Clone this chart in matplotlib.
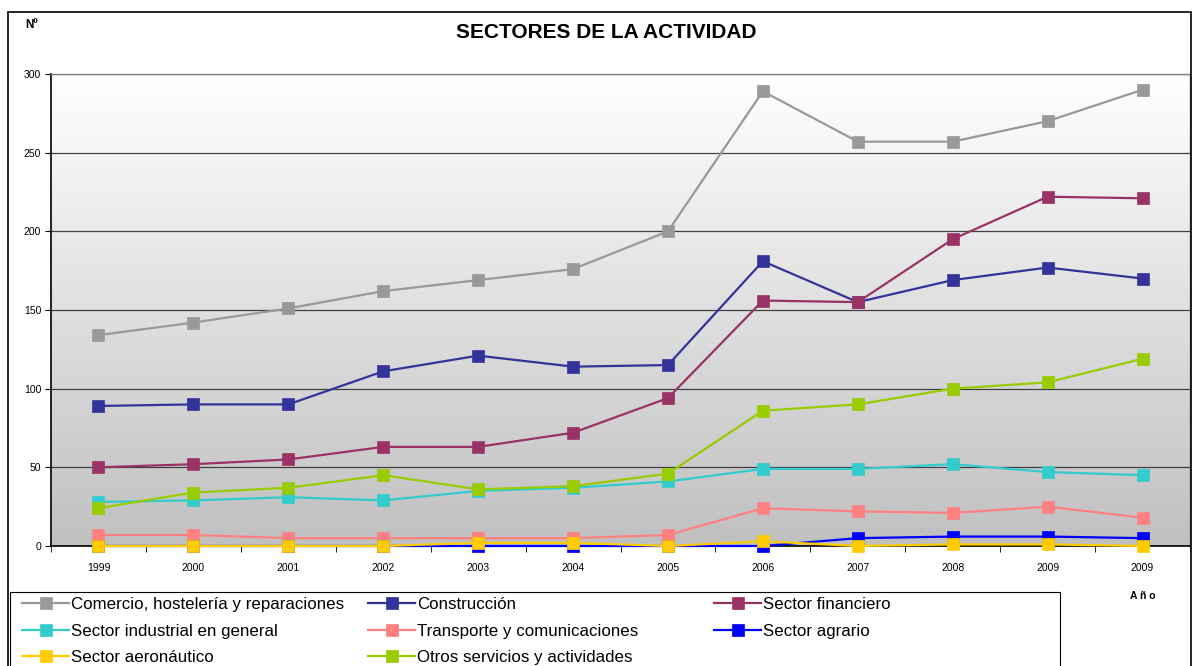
import matplotlib
matplotlib.use("Agg")
import matplotlib.pyplot as plt
import numpy as np
from matplotlib.patches import Rectangle
from matplotlib.colors import LinearSegmentedColormap

plt.rcParams['font.family'] = ['Liberation Sans', 'DejaVu Sans']

years = ["1999", "2000", "2001", "2002", "2003", "2004", "2005", "2006", "2007", "2008", "2009", "2009"]

comercio = [134, 142, 151, 162, 169, 176, 200, 289, 257, 257, 270, 290]
construccion = [89, 90, 90, 111, 121, 114, 115, 181, 155, 169, 177, 170]
financiero = [50, 52, 55, 63, 63, 72, 94, 156, 155, 195, 222, 221]
industrial = [28, 29, 31, 29, 35, 37, 41, 49, 49, 52, 47, 45]
transporte = [7, 7, 5, 5, 5, 5, 7, 24, 22, 21, 25, 18]
agrario = [0, 0, 0, 0, 0, 0, 0, 0, 5, 6, 6, 5]
aeronautico = [0, 0, 0, 0, 2, 2, 0, 3, 0, 1, 1, 0]
otros = [24, 34, 37, 45, 36, 38, 46, 86, 90, 100, 104, 119]

series = [
    ("Comercio, hostelería y reparaciones", comercio, "#999999"),
    ("Construcción", construccion, "#333399"),
    ("Sector financiero", financiero, "#993366"),
    ("Sector industrial en general", industrial, "#33CCCC"),
    ("Transporte y comunicaciones", transporte, "#FF8080"),
    ("Sector agrario", agrario, "#0000FF"),
    ("Sector aeronáutico", aeronautico, "#FFCC00"),
    ("Otros servicios y actividades", otros, "#99CC00"),
]

W, H = 1192, 666
fig = plt.figure(figsize=(W / 100, H / 100), dpi=100)
fig.patch.set_facecolor("white")

L, R, T, B = 51, 1190, 74, 546
pos = [L / W, 1 - B / H, (R - L) / W, (B - T) / H]

# gradient background
bg = fig.add_axes(pos, zorder=0)
cmap = LinearSegmentedColormap.from_list("g", ["#c0c0c0", "#ffffff"])
bg.imshow(np.linspace(0, 1, 256).reshape(-1, 1), aspect="auto", cmap=cmap,
          origin="lower", extent=[0, 1, 0, 1])
bg.set_axis_off()

ax = fig.add_axes(pos, zorder=1)
ax.set_facecolor("none")

x = np.arange(len(years))
handles = {}
for name, vals, col in series:
    ln, = ax.plot(x, vals, color=col, lw=1.6, marker="s", markersize=8.5,
                  markerfacecolor=col, markeredgecolor=col, markeredgewidth=0.5,
                  label=name, clip_on=False, zorder=3)
    handles[name] = ln

ax.set_xlim(-0.5, len(years) - 0.5)
ax.set_ylim(0, 300)
ax.set_yticks(np.arange(0, 301, 50))
ax.yaxis.grid(True, color="#404040", lw=0.9)
ax.set_axisbelow(True)
ax.set_xticks(x)
ax.set_xticklabels(years)
ax.set_xticks(np.arange(-0.5, len(years), 1), minor=True)
ax.tick_params(axis="x", which="major", length=0, labelsize=7.5, pad=12)
ax.tick_params(axis="x", which="minor", length=4, direction="out", color="black")
ax.tick_params(axis="y", length=4, direction="out", labelsize=7.5, pad=3)
for s in ["top", "right"]:
    ax.spines[s].set_color("#808080")
    ax.spines[s].set_linewidth(1.0)
for s in ["left", "bottom"]:
    ax.spines[s].set_color("black")
    ax.spines[s].set_linewidth(1.2)

# figure border
fig.patches.append(Rectangle((8 / W, -0.01), (W - 9) / W, 1 - 12 / H + 0.01,
                             transform=fig.transFigure, fill=False,
                             edgecolor="black", lw=1.2))

fig.text(606 / W, 1 - 32 / H, "SECTORES DE LA ACTIVIDAD", ha="center", va="center",
         fontsize=15, fontweight="bold")
fig.text(25 / W, 1 - 25 / H, "Nº", ha="left", va="center", fontsize=8.5, fontweight="bold")
fig.text(1143 / W, 1 - 596 / H, "A ñ o", ha="center", va="center", fontsize=7.5, fontweight="bold")

# legend frame
fig.patches.append(Rectangle((10 / W, -0.02), 1050 / W, 1 - 592 / H + 0.02,
                             transform=fig.transFigure, fill=False,
                             edgecolor="black", lw=0.8))

cols = [
    (22, ["Comercio, hostelería y reparaciones", "Sector industrial en general", "Sector aeronáutico"]),
    (368, ["Construcción", "Transporte y comunicaciones", "Otros servicios y actividades"]),
    (714, ["Sector financiero", "Sector agrario"]),
]
for xpx, names in cols:
    fig.legend(handles=[handles[n] for n in names], labels=names,
               loc="upper left", bbox_to_anchor=(xpx / W, 1 - 597 / H),
               frameon=False, fontsize=12.2, handlelength=2.8, handletextpad=0.12,
               borderpad=0, borderaxespad=0, labelspacing=0.68)

fig.savefig("out.png", dpi=100)
